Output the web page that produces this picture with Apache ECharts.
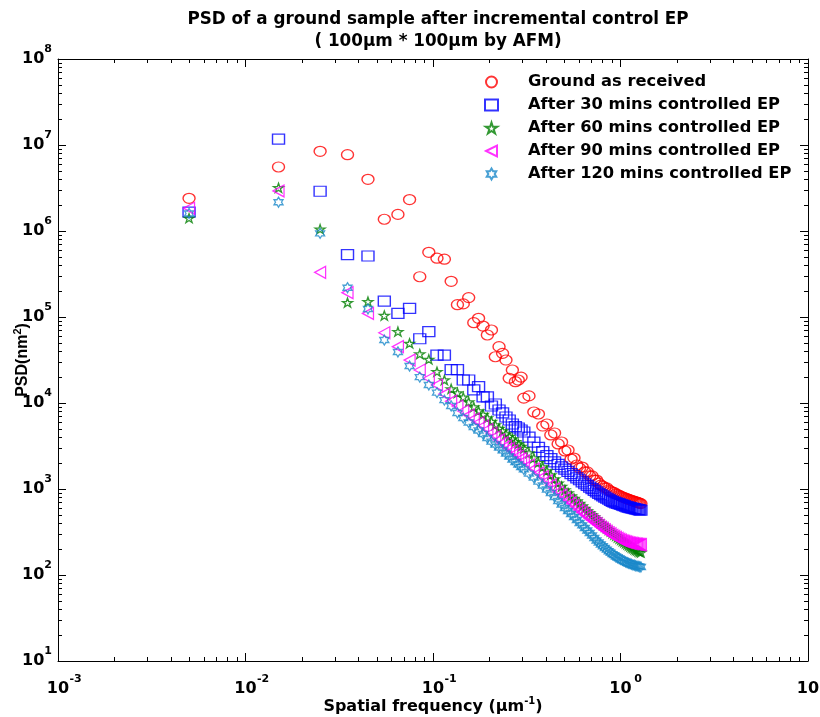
<!DOCTYPE html>
<html><head><meta charset="utf-8">
<script src="https://cdn.jsdelivr.net/npm/echarts@6.0.0/dist/echarts.min.js"></script>
<style>html,body{margin:0;padding:0;background:#fff}#chart{width:820px;height:717px}</style>
</head><body><div id="chart"></div>
<script>
// Spatial frequency (um^-1)
const freqLow = [0.005,0.015,0.025,0.035,0.045,0.055,0.065,0.075,0.085,0.095,0.105,0.115,0.125,0.135,0.145,0.155,0.165,0.175,0.185,0.195,0.205,0.215,0.225,0.235,0.245,0.255,0.265,0.275,0.285,0.295];
const freqHigh = [0.305,0.325,0.345,0.365,0.385,0.405,0.425,0.445,0.465,0.485,0.505,0.525,0.545,0.565,0.585,0.605,0.625,0.645,0.665,0.685,0.705,0.725,0.745,0.765,0.785,0.805,0.825,0.845,0.865,0.885,0.905,0.925,0.945,0.965,0.985,1.005,1.025,1.045,1.065,1.085,1.105,1.125,1.145,1.165,1.185,1.205,1.225,1.245,1.265,1.285];

const groundAsReceived = [2.40e6,5.55e6,8.45e6,7.71e6,3.99e6,1.37e6,1.56e6,2.32e6,2.94e5,5.65e5,4.83e5,4.70e5,2.60e5,1.39e5,1.42e5,1.68e5,8.59e4,9.66e4,7.85e4,6.18e4,7.06e4,3.45e4,4.52e4,3.78e4,3.16e4,1.94e4,2.42e4,1.77e4,1.85e4,2.0e4,
  1.14e4,1.21e4,7.86e3,7.45e3,5.40e3,5.70e3,4.25e3,4.48e3,3.34e3,3.52e3,2.77e3,2.84e3,2.23e3,2.29e3,1.90e3,1.75e3,1.80e3,1.58e3,1.58e3,1.42e3,1.42e3,1.27e3,1.27e3,1.17e3,1.11e3,1.08e3,1.03e3,1.03e3,973,948,923,910,875,863,840,825,807,794,786,769,757,748,739,729,720,710,703,693,684,676];
const after30 = [1.66e6,1.17e7,2.90e6,5.30e5,5.12e5,1.53e5,1.10e5,1.26e5,5.59e4,6.75e4,3.61e4,3.61e4,2.45e4,2.45e4,1.85e4,1.85e4,1.42e4,1.55e4,1.18e4,1.18e4,9.23e3,9.73e3,8.29e3,7.66e3,6.87e3,6.34e3,5.70e3,5.30e3,5.12e3,4.85e3,
  4.60e3,4.02e3,3.50e3,3.05e3,2.72e3,2.45e3,2.25e3,2.07e3,1.93e3,1.81e3,1.70e3,1.60e3,1.51e3,1.43e3,1.35e3,1.28e3,1.21e3,1.15e3,1.10e3,1.05e3,1.01e3,965,925,890,860,832,806,781,760,737,718,704,691,680,670,660,650,640,630,621,614,608,601,597,590,585,581,576,571,566];
const after60 = [1.41e6,3.18e6,1.05e6,1.47e5,1.51e5,1.04e5,6.75e4,4.94e4,3.71e4,3.22e4,2.31e4,1.85e4,1.46e4,1.31e4,1.17e4,1.03e4,8.98e3,8.07e3,7.35e3,6.69e3,6.10e3,5.55e3,5.05e3,4.72e3,4.36e3,4.08e3,3.81e3,3.56e3,3.34e3,3.12e3,
  2.96e3,2.62e3,2.29e3,2.03e3,1.80e3,1.62e3,1.46e3,1.31e3,1.17e3,1.07e3,973,898,830,776,725,678,634,593,555,526,499,472,448,425,403,384,366,350,336,321,308,296,286,275,265,256,248,241,234,227,221,215,210,205,200,196,193,189,186,183];
const after90 = [1.84e6,2.92e6,3.31e5,1.92e5,1.10e5,6.56e4,4.52e4,3.16e4,2.42e4,1.94e4,1.62e4,1.27e4,1.05e4,9.23e3,8.07e3,7.24e3,6.52e3,5.93e3,5.40e3,4.92e3,4.48e3,4.08e3,3.72e3,3.43e3,3.16e3,2.96e3,2.77e3,2.59e3,2.42e3,2.26e3,
  2.12e3,1.90e3,1.71e3,1.53e3,1.38e3,1.24e3,1.11e3,1.01e3,923,851,786,735,687,643,601,562,533,505,479,454,433,413,395,378,361,348,334,321,310,300,290,282,274,267,260,255,250,246,243,239,237,235,233,232,231,229,228,227,226,226];
const after120 = [1.60e6,2.16e6,9.40e5,2.19e5,1.24e5,5.40e4,3.92e4,2.69e4,2.00e4,1.62e4,1.32e4,1.08e4,9.23e3,7.66e3,6.69e3,5.93e3,5.26e3,4.79e3,4.36e3,3.92e3,3.56e3,3.29e3,3.04e3,2.81e3,2.59e3,2.39e3,2.20e3,2.06e3,1.93e3,1.80e3,
  1.69e3,1.51e3,1.36e3,1.22e3,1.10e3,986,898,807,725,661,601,555,512,472,436,403,377,352,329,308,288,269,252,239,226,216,206,197,189,182,175,170,164,160,156,151,148,145,142,139,137,135,133,131,130,128,127,126,125,124];

const seriesNames = ['Ground as received','After 30 mins controlled EP','After 60 mins controlled EP','After 90 mins controlled EP','After 120 mins controlled EP'];
const xTickExponents = [-3,-2,-1,0,1];
const yTickExponents = [1,2,3,4,5,6,7,8];
const minorMultipliers = [2,3,4,5,6,7,8,9];

const freq = freqLow.concat(freqHigh);
const FONT = 'DejaVu Sans';
const pentagram = 'path://M50 0 L61.23 34.55 L97.55 34.55 L68.16 55.9 L79.39 90.45 L50 69.1 L20.61 90.45 L31.84 55.9 L2.45 34.55 L38.77 34.55 Z';
const hexagram = 'path://M50 0 L64.43 25 L93.3 25 L78.87 50 L93.3 75 L64.43 75 L50 100 L35.57 75 L6.7 75 L21.13 50 L6.7 25 L35.57 25 Z';
const leftTriangle = 'path://M0 50 L100 0 L100 100 Z';

function mk(name, values, symbol, size, color) {
  return {
    name, type: 'scatter', xAxisIndex: 0, yAxisIndex: 0,
    data: freq.map((f, i) => [f, values[i]]),
    symbol, symbolSize: size,
    itemStyle: { color: 'rgba(0,0,0,0)', borderColor: color, borderWidth: 1.3 },
    emphasis: { disabled: true }, silent: true, animation: false
  };
}

const xMinor = [], yMinor = [];
xTickExponents.slice(0, -1).forEach(e => minorMultipliers.forEach(m => xMinor.push([m * Math.pow(10, e), 1e4])));
yTickExponents.slice(0, -1).forEach(e => minorMultipliers.forEach(m => yMinor.push([0.01, m * Math.pow(10, e)])));

function expLabelX(v) {
  const e = Math.round(Math.log10(v));
  return '{p|}{b|10}{s|' + e + '}';
}
function expLabelY(v) {
  const e = Math.round(Math.log10(v));
  return '{b|10}{s|' + e + '}';
}
const richX = {
  p: { width: 13 },
  b: { fontFamily: FONT, fontWeight: 'bold', fontSize: 16, color: '#000', lineHeight: 30 },
  s: { fontFamily: FONT, fontWeight: 'bold', fontSize: 11, color: '#000', lineHeight: 11, verticalAlign: 'top', width: 13, align: 'left' }
};
const richY = {
  b: { fontFamily: FONT, fontWeight: 'bold', fontSize: 16, color: '#000', lineHeight: 30 },
  s: { fontFamily: FONT, fontWeight: 'bold', fontSize: 11, color: '#000', lineHeight: 11, verticalAlign: 'top' }
};

const axisCommon = {
  type: 'log', logBase: 10, splitLine: { show: false },
  axisLine: { show: true, onZero: false, lineStyle: { color: '#000', width: 1 } },
  axisTick: { show: true, inside: true, length: 8, lineStyle: { color: '#000', width: 1 } },
  minorTick: { show: false }
};

const option = {
  backgroundColor: '#fff',
  animation: false,
  title: {
    text: 'PSD of a ground sample after incremental control EP\n( 100μm * 100μm by AFM)',
    left: 433, top: 4, textAlign: 'center',
    textStyle: { fontFamily: FONT, fontWeight: 'bold', fontSize: 16.8, color: '#000', lineHeight: 22 }
  },
  grid: { left: 58, right: 12, top: 59, bottom: 56, containLabel: false, outerBoundsMode: 'none' },
  legend: {
    orient: 'vertical', left: 479, top: 67, itemWidth: 13, itemHeight: 11, itemGap: 3,
    data: seriesNames,
    formatter: n => '{g|}{t|' + n + '}',
    textStyle: {
      fontFamily: FONT, fontWeight: 'bold', fontSize: 16, color: '#000', lineHeight: 20,
      rich: { g: { width: 25 }, t: { fontFamily: FONT, fontWeight: 'bold', fontSize: 16.3, color: '#000' } }
    },
    selectedMode: false
  },
  xAxis: [
    Object.assign({}, axisCommon, {
      position: 'bottom', min: 0.001, max: 10, interval: 1,
      axisLabel: { formatter: expLabelX, rich: richX, margin: 13 },
      name: '{n|Spatial frequency (μm}{s|-1}{n|)}', nameLocation: 'middle', nameGap: 35, nameMoveOverlap: false,
      nameTextStyle: { rich: {
        n: { fontFamily: FONT, fontWeight: 'bold', fontSize: 16, color: '#000', lineHeight: 22 },
        s: { fontFamily: FONT, fontWeight: 'bold', fontSize: 10, color: '#000', lineHeight: 10, verticalAlign: 'top' } } }
    }),
    Object.assign({}, axisCommon, {
      position: 'top', min: 0.001, max: 10, interval: 1, axisLabel: { show: false }
    })
  ],
  yAxis: [
    Object.assign({}, axisCommon, {
      position: 'left', min: 10, max: 1e8, interval: 1,
      axisLabel: { formatter: expLabelY, rich: richY, margin: 6 },
      name: '{n|PSD(nm}{s|2}{n|)}', nameLocation: 'middle', nameGap: 24, nameRotate: 90, nameMoveOverlap: false,
      nameTextStyle: { rich: {
        n: { fontFamily: 'Liberation Sans', fontWeight: 'bold', fontSize: 16, color: '#000', lineHeight: 22 },
        s: { fontFamily: 'Liberation Sans', fontWeight: 'bold', fontSize: 11, color: '#000', lineHeight: 11, verticalAlign: 'top' } } }
    }),
    Object.assign({}, axisCommon, {
      position: 'right', min: 10, max: 1e8, interval: 1, axisLabel: { show: false }
    })
  ],
  series: [
    mk(seriesNames[0], groundAsReceived, 'circle', [12, 10], '#ff0000'),
    mk(seriesNames[1], after30, 'rect', [12, 10], '#0000ff'),
    mk(seriesNames[2], after60, pentagram, [10, 9], '#008000'),
    mk(seriesNames[3], after90, leftTriangle, [11, 12], '#ff00ff'),
    mk(seriesNames[4], after120, hexagram, [9, 10], '#1a88c9'),
    {
      type: 'custom', xAxisIndex: 0, yAxisIndex: 0, data: xMinor, silent: true, clip: false, z: 5,
      renderItem: (params, api) => {
        const cs = params.coordSys;
        const px = Math.round(api.coord([api.value(0), 1e4])[0]) + 0.5;
        const b = cs.y + cs.height;
        return { type: 'group', children: [
          { type: 'line', shape: { x1: px, y1: b, x2: px, y2: b - 4 }, style: { stroke: '#000', lineWidth: 1 } },
          { type: 'line', shape: { x1: px, y1: cs.y, x2: px, y2: cs.y + 4 }, style: { stroke: '#000', lineWidth: 1 } }
        ] };
      }
    },
    {
      type: 'custom', xAxisIndex: 0, yAxisIndex: 0, data: yMinor, silent: true, clip: false, z: 5,
      renderItem: (params, api) => {
        const cs = params.coordSys;
        const py = Math.round(api.coord([0.01, api.value(1)])[1]) + 0.5;
        const r = cs.x + cs.width;
        return { type: 'group', children: [
          { type: 'line', shape: { x1: cs.x, y1: py, x2: cs.x + 4, y2: py }, style: { stroke: '#000', lineWidth: 1 } },
          { type: 'line', shape: { x1: r, y1: py, x2: r - 4, y2: py }, style: { stroke: '#000', lineWidth: 1 } }
        ] };
      }
    }
  ]
};
const chart = echarts.init(document.getElementById('chart'), null, { renderer: 'canvas' });
chart.setOption(option);
</script>
</body></html>
